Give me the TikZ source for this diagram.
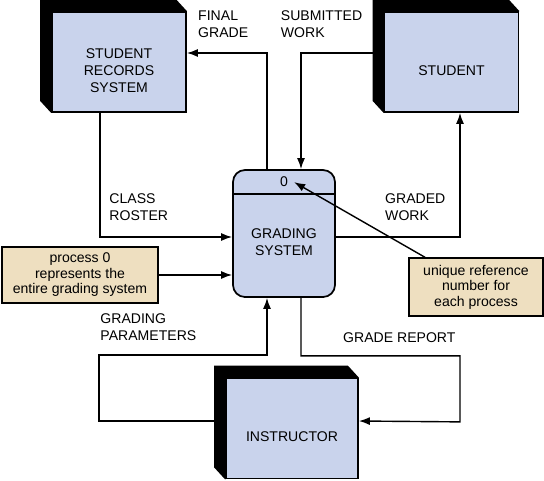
\documentclass[tikz,border=0pt]{standalone}
\usepackage{fontspec}
\setmainfont{Liberation Sans}
\usetikzlibrary{positioning,arrows.meta,backgrounds}
\definecolor{entityblue}{RGB}{201,211,236}
\definecolor{notetan}{RGB}{238,223,192}

\begin{document}
\begin{tikzpicture}[node distance = 1cm and 4cm, on grid,
  font=\fontsize{8}{9.7}\selectfont,
  flow/.style={line width=0.8pt, -{Latex[length=2.2mm,width=1.6mm]}},
  entity/.style={rectangle, draw, line width=1pt, fill=entityblue,
    minimum width=2.68cm, minimum height=2cm},
  process/.style={rectangle, rounded corners=0.24cm, draw, line width=1pt,
    fill=entityblue, minimum width=2.04cm, minimum height=2.54cm},
  inside/.style={align=center, yshift=-0.17cm},
  note/.style={rectangle, draw, line width=0.8pt, fill=notetan, align=center,
    font=\fontsize{8}{8.8}\selectfont},
  lbl/.style={inner sep=0pt, align=left, anchor=west}
]
\useasboundingbox (-5.68,-4.93) rectangle (5.2,4.67);

% process and external entities
\node[process, label={[inside]center:GRADING\\SYSTEM}] (grading) {};
\node[entity, label={[inside]center:STUDENT\\RECORDS\\SYSTEM}] (srs)
    [above left = 3.43cm and 3.3cm of grading] {};
\node[entity, label={[inside]center:STUDENT}] (student)
    [above right = 3.43cm and 3.35cm of grading] {};
\node[entity, minimum width=2.64cm, label={[inside]center:INSTRUCTOR}] (instr)
    [below right = 3.9cm and 0.16cm of grading] {};
\node (zero) at ([yshift=-0.26cm]grading.north) {0};
\draw[line width=1pt] ([yshift=-0.5cm]grading.north west)
    -- ([yshift=-0.5cm]grading.north east);

% 3d sides
\begin{scope}[on background layer]
\foreach \n in {srs,student,instr}
  \fill (\n.north east) -- ++(-0.22,0.24)
    -- ([shift={(-0.22,0.24)}]\n.north west)
    -- ([shift={(-0.22,0.24)}]\n.south west) -- (\n.south west) -- cycle;
\end{scope}

% notes
\node[note, minimum width=3.12cm, minimum height=1.12cm] (note0)
    [below left = 0.83cm and 4.08cm of grading]
    {process 0\\represents the\\entire grading system};
\node[note, minimum width=2.68cm, minimum height=1.16cm] (noteref)
    [below right = 1.07cm and 3.84cm of grading]
    {unique reference\\number for\\each process};

% data flows
\draw[flow] ([xshift=-0.34cm]grading.north) |- ([yshift=0.18cm]srs.east);
\draw[flow] ([shift={(-0.22,0.18)}]student.west) -| ([xshift=0.34cm]grading.north);
\draw[flow] ([xshift=-0.38cm]srs.south) |- ([yshift=-0.07cm]grading.west);
\draw[flow] ([yshift=-0.07cm]grading.east) -| ([xshift=0.17cm]student.south);
\draw[flow] (note0.east) -- (note0.east -| grading.west);
\draw[flow] ([xshift=-1.02cm]noteref.north) -- (zero.east);
\draw[flow] ([shift={(-0.22,0.15)}]instr.west) -- ++(-2.3,0) -- ++(0,1.32)
    -| ([xshift=-0.34cm]grading.south);
\draw[flow] ([xshift=0.34cm]grading.south) -- ++(0,-1.16) -| ++(3.18,-1.32)
    -- ([yshift=0.15cm]instr.east);

% flow labels
\node[lbl] (lfinal) at ([shift={(0.22cm,-0.27cm)}]srs.north east) {FINAL\\GRADE};
\node[lbl] (lsubmit) at ([shift={(-2.06cm,-0.27cm)}]student.north west) {SUBMITTED\\WORK};
\node[lbl] (lroster) at ([shift={(-2.46cm,0.52cm)}]grading.west) {CLASS\\ROSTER};
\node[lbl] (lgraded) at ([shift={(0.98cm,0.52cm)}]grading.east) {GRADED\\WORK};
\node[lbl] (lparam) at ([shift={(-2.64cm,-0.59cm)}]grading.south west) {GRADING\\PARAMETERS};
\node[lbl] (lreport) at ([shift={(0.14cm,-0.8cm)}]grading.south east) {GRADE REPORT};
\end{tikzpicture}
\end{document}
